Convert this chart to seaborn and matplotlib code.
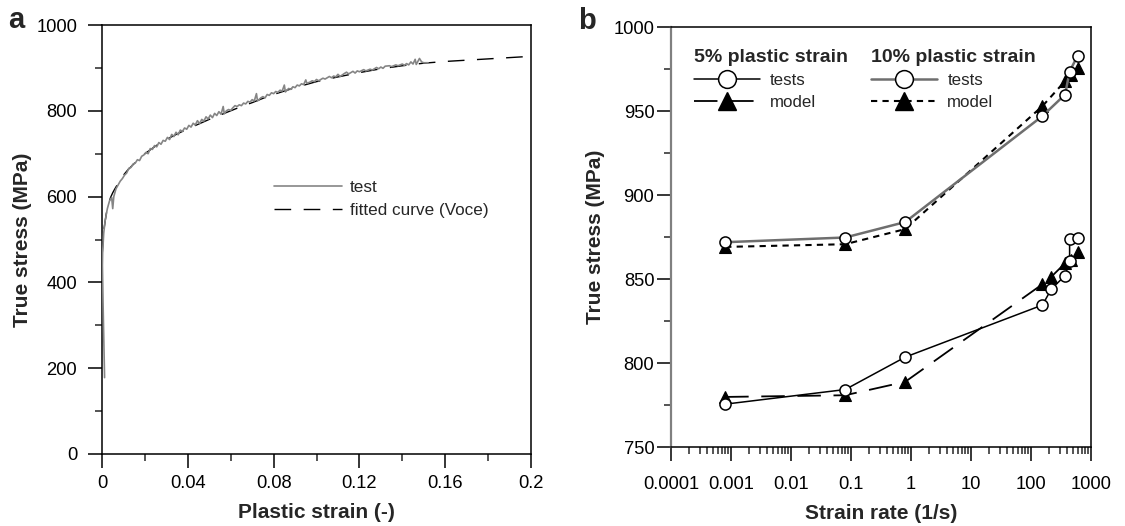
import matplotlib
matplotlib.use("Agg")
import matplotlib.pyplot as plt
import seaborn as sns
import numpy as np
from matplotlib.lines import Line2D
from matplotlib.ticker import FixedLocator, FixedFormatter, MultipleLocator, LogLocator, NullFormatter

# ---------------- data: panel a ----------------
strain_test = [0.0012, 0.0009, 0.0005, 0.0002, 0.0003, 0.0008, 0.0015, 0.0025, 0.0035, 0.0045,
               0.0050, 0.0055, 0.0065, 0.0075, 0.0085, 0.0095, 0.0105, 0.0115, 0.0125, 0.0135,
               0.0145, 0.0155, 0.0165, 0.0175, 0.0185, 0.0195, 0.0205, 0.0215, 0.0225, 0.0235,
               0.0245, 0.0255, 0.0265, 0.0275, 0.0285, 0.0295, 0.0305, 0.0315, 0.0325, 0.0335,
               0.0345, 0.0355, 0.0365, 0.0375, 0.0385, 0.0395, 0.0405, 0.0415, 0.0425, 0.0435,
               0.0445, 0.0455, 0.0465, 0.0475, 0.0485, 0.0495, 0.0505, 0.0515, 0.0525, 0.0535,
               0.0545, 0.0555, 0.0565, 0.0570, 0.0580, 0.0590, 0.0600, 0.0610, 0.0620, 0.0630,
               0.0640, 0.0650, 0.0660, 0.0670, 0.0680, 0.0690, 0.0700, 0.0710, 0.0720, 0.0725,
               0.0740, 0.0750, 0.0760, 0.0770, 0.0780, 0.0790, 0.0800, 0.0810, 0.0820, 0.0830,
               0.0840, 0.0850, 0.0855, 0.0870, 0.0880, 0.0890, 0.0900, 0.0910, 0.0920, 0.0930,
               0.0940, 0.0950, 0.0955, 0.0970, 0.0980, 0.0990, 0.1000, 0.1010, 0.1030, 0.1040,
               0.1060, 0.1070, 0.1080, 0.1090, 0.1100, 0.1110, 0.1130, 0.1140, 0.1150, 0.1170,
               0.1180, 0.1190, 0.1200, 0.1220, 0.1230, 0.1250, 0.1260, 0.1280, 0.1290, 0.1300,
               0.1310, 0.1320, 0.1340, 0.1350, 0.1370, 0.1380, 0.1400, 0.1410, 0.1420, 0.1430,
               0.1440, 0.1450, 0.1460, 0.1465, 0.1480, 0.1490, 0.1500, 0.1520]
stress_test = [178, 250, 350, 440, 470, 515, 545, 572, 590, 598,
               572, 600, 618, 627, 636, 642, 650, 655, 666, 668,
               676, 678, 686, 684, 694, 697, 703, 700, 712, 710,
               719, 716, 726, 722, 731, 729, 738, 733, 745, 740,
               750, 744, 755, 752, 760, 757, 766, 762, 771, 767,
               777, 770, 780, 776, 786, 781, 790, 784, 794, 789,
               798, 792, 810, 793, 800, 803, 801, 807, 812, 810,
               814, 812, 818, 816, 822, 820, 826, 823, 840, 823,
               830, 833, 830, 838, 836, 842, 840, 845, 843, 848,
               846, 860, 844, 852, 850, 856, 854, 860, 858, 863,
               861, 872, 864, 867, 870, 868, 873, 870, 876, 874,
               880, 877, 881, 879, 885, 880, 887, 890, 886, 892,
               888, 893, 891, 896, 893, 897, 895, 901, 898, 902,
               899, 904, 905, 903, 907, 905, 909, 906, 910, 907,
               914, 909, 920, 908, 922, 914, 912, 912]

strain_fit = [0, 0.0005, 0.001, 0.002, 0.003, 0.004, 0.005, 0.006, 0.008, 0.01, 0.012, 0.014,
              0.016, 0.018, 0.02, 0.025, 0.03, 0.035, 0.04, 0.045, 0.05, 0.055, 0.06, 0.065,
              0.07, 0.075, 0.08, 0.085, 0.09, 0.095, 0.1, 0.11, 0.12, 0.13, 0.14, 0.15, 0.16,
              0.17, 0.18, 0.19, 0.2]
stress_fit = [457, 500, 527, 560, 583, 598, 609, 618, 635, 650, 662, 672,
              682, 691, 700, 718, 733, 746, 758, 769, 780, 790, 800, 810,
              819, 829, 838, 846, 854, 861, 868, 879, 889, 898, 905, 911, 915,
              918, 921, 924, 927]

# ---------------- data: panel b ----------------
rate_tests_10 = [0.0008, 0.08, 0.8, 155, 370, 440, 600]
stress_tests_10 = [871.9, 874.7, 883.9, 947.0, 959.8, 973.5, 983.0]
rate_model_10 = [0.0008, 0.08, 0.8, 155, 370, 456, 600]
stress_model_10 = [869.1, 870.7, 879.7, 952.9, 967.8, 971.4, 975.7]
rate_tests_5 = [0.0008, 0.08, 0.8, 155, 219, 370, 440, 440, 600]
stress_tests_5 = [775.5, 784.2, 803.5, 834.5, 844.1, 852.0, 861.0, 873.7, 874.7]
rate_model_5 = [0.0008, 0.08, 0.8, 155, 219, 370, 456, 600]
stress_model_5 = [779.8, 780.8, 788.8, 846.9, 851.4, 859.4, 861.4, 866.0]

xticks_b = [1e-4, 1e-3, 1e-2, 1e-1, 1, 10, 100, 1000]
xtick_labels_b = ["0.0001", "0.001", "0.01", "0.1", "1", "10", "100", "1000"]
xticks_a = [0, 0.04, 0.08, 0.12, 0.16, 0.2]
xtick_labels_a = ["0", "0.04", "0.08", "0.12", "0.16", "0.2"]

# ---------------- style ----------------
sns.set_theme(style="ticks")
plt.rcParams["font.family"] = ["Liberation Sans", "DejaVu Sans"]
plt.rcParams["axes.linewidth"] = 1.1
plt.rcParams["axes.edgecolor"] = "black"

W, H = 1125, 526
fig = plt.figure(figsize=(W / 100, H / 100), dpi=100)

def box(l, r, t, b):
    return [l / W, 1 - b / H, (r - l) / W, (b - t) / H]

axa = fig.add_axes(box(102, 531, 25, 454))
axb = fig.add_axes(box(671, 1091, 27, 447))

# ---------------- panel a ----------------
sns.lineplot(x=strain_fit, y=stress_fit, estimator=None, sort=False, ax=axa,
             color="black", linewidth=1.0, linestyle=(0, (12, 9)), zorder=2)
sns.lineplot(x=strain_test, y=stress_test, estimator=None, sort=False, ax=axa,
             color="#858585", linewidth=1.2, zorder=3)
axa.set_xlim(0, 0.2)
axa.set_ylim(0, 1000)
axa.xaxis.set_major_locator(FixedLocator(xticks_a))
axa.xaxis.set_major_formatter(FixedFormatter(xtick_labels_a))
axa.xaxis.set_minor_locator(MultipleLocator(0.02))
axa.yaxis.set_major_locator(MultipleLocator(200))
axa.yaxis.set_minor_locator(MultipleLocator(100))
axa.tick_params(axis="both", which="major", direction="out", length=10, width=1.1,
                labelsize=13.2, colors="black")
axa.tick_params(axis="both", which="minor", direction="out", length=5, width=1.1)
axa.tick_params(axis="x", which="major", pad=5)
axa.tick_params(axis="y", which="major", pad=8)
for s in axa.spines.values():
    s.set_visible(True)
    s.set_color("black")
axa.set_xlabel("Plastic strain (-)", fontsize=15, fontweight="bold", labelpad=8)
axa.set_ylabel("True stress (MPa)", fontsize=15, fontweight="bold", labelpad=3)

handles_a = [Line2D([], [], color="#858585", lw=1.2),
             Line2D([], [], color="black", lw=1.0, linestyle=(0, (12, 9)))]
axa.legend(handles_a, ["test", "fitted curve (Voce)"], loc="upper left",
           bbox_to_anchor=((274 - 102) / 429, (454 - 180) / 429), frameon=False,
           fontsize=12.3, handlelength=4.0, handletextpad=0.45, borderpad=0,
           borderaxespad=0, labelspacing=0.45)
fig.text(16 / W, 1 - 20 / H, "a", fontsize=21, fontweight="bold", ha="center", va="center")

# ---------------- panel b ----------------
gray = "#6e6e6e"
sns.lineplot(x=rate_tests_10, y=stress_tests_10, estimator=None, sort=False, ax=axb,
             color=gray, linewidth=1.8, marker="o", markersize=8, markerfacecolor="white",
             markeredgecolor="black", markeredgewidth=1.1, zorder=3)
sns.lineplot(x=rate_model_10, y=stress_model_10, estimator=None, sort=False, ax=axb,
             color="black", linewidth=1.5, linestyle=(0, (3, 2.5)), marker="^", markersize=8,
             markerfacecolor="black", markeredgecolor="black", markeredgewidth=0.8, zorder=2)
sns.lineplot(x=rate_tests_5, y=stress_tests_5, estimator=None, sort=False, ax=axb,
             color="black", linewidth=1.1, marker="o", markersize=8, markerfacecolor="white",
             markeredgecolor="black", markeredgewidth=1.1, zorder=3)
sns.lineplot(x=rate_model_5, y=stress_model_5, estimator=None, sort=False, ax=axb,
             color="black", linewidth=1.3, linestyle=(0, (13, 7)), marker="^", markersize=8,
             markerfacecolor="black", markeredgecolor="black", markeredgewidth=0.8, zorder=2)

axb.set_xscale("log")
axb.set_xlim(1e-4, 1e3)
axb.set_ylim(750, 1000)
axb.xaxis.set_major_locator(FixedLocator(xticks_b))
axb.xaxis.set_major_formatter(FixedFormatter(xtick_labels_b))
axb.xaxis.set_minor_locator(LogLocator(base=10, subs=np.arange(2, 10), numticks=20))
axb.xaxis.set_minor_formatter(NullFormatter())
axb.yaxis.set_major_locator(MultipleLocator(50))
axb.yaxis.set_minor_locator(MultipleLocator(25))
axb.tick_params(axis="both", which="major", direction="out", length=10, width=1.1,
                labelsize=13.2, colors="black")
axb.tick_params(axis="both", which="minor", direction="out", length=5, width=1.1)
axb.tick_params(axis="x", which="major", pad=11)
axb.tick_params(axis="y", which="major", pad=2)
for s in axb.spines.values():
    s.set_visible(True)
    s.set_color("black")
axb.spines["left"].set_color("#808080")
axb.spines["left"].set_linewidth(1.6)
axb.set_xlabel("Strain rate (1/s)", fontsize=15, fontweight="bold", labelpad=8)
axb.set_ylabel("True stress (MPa)", fontsize=15, fontweight="bold", labelpad=6)

h5 = [Line2D([], [], color="black", lw=1.1, marker="o", markersize=8,
             markerfacecolor="white", markeredgecolor="black", markeredgewidth=1.1),
      Line2D([], [], color="black", lw=1.3, linestyle=(0, (13, 7)), marker="^", markersize=8,
             markerfacecolor="black", markeredgecolor="black")]
h10 = [Line2D([], [], color=gray, lw=1.8, marker="o", markersize=8,
              markerfacecolor="white", markeredgecolor="black", markeredgewidth=1.1),
       Line2D([], [], color="black", lw=1.5, linestyle=(0, (3, 2.5)), marker="^", markersize=8,
              markerfacecolor="black", markeredgecolor="black")]
common = dict(loc="upper left", frameon=False, fontsize=12.2, handlelength=3.9,
              handletextpad=0.6, borderpad=0, borderaxespad=0, labelspacing=0.42,
              markerscale=1.6, alignment="left",
              title_fontproperties={"weight": "bold", "size": 14})
leg5 = axb.legend(h5, ["tests", "model"], title="5% plastic strain",
                  bbox_to_anchor=((694 - 671) / 420, (447 - 49) / 420), **common)
axb.add_artist(leg5)
leg10 = axb.legend(h10, ["tests", "model"], title="10% plastic strain",
                   bbox_to_anchor=((871 - 671) / 420, (447 - 49) / 420), **common)
fig.text(587 / W, 1 - 21 / H, "b", fontsize=21, fontweight="bold", ha="center", va="center")

fig.savefig("out.png", dpi=100)
